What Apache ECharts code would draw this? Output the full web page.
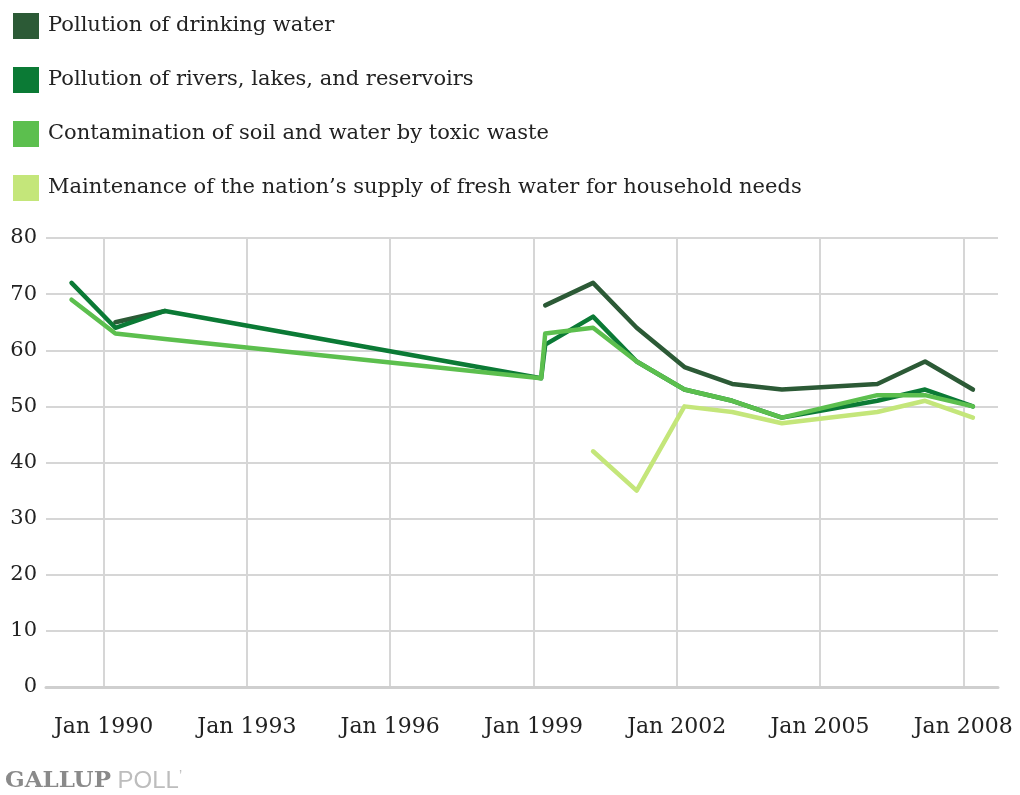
<!DOCTYPE html>
<html>
<head>
<meta charset="utf-8">
<script src="https://cdn.jsdelivr.net/npm/echarts@6/dist/echarts.min.js"></script>
<style>
html,body{margin:0;padding:0;background:#fff;}
#chart{width:1020px;height:795px;}
</style>
</head>
<body>
<div id="chart"></div>
<script>
// Survey dates (YYYY-MM-DD)
var surveyDates = ['1989-05-01','1990-04-01','1991-04-15','1999-03-01','1999-04-01','2000-04-01','2001-03-01','2002-03-01','2003-03-01','2004-03-15','2006-03-15','2007-03-15','2008-03-15'];
// Percent worrying "a great deal"
var drinkingWater   = [null, 65, 67, null, 68, 72, 64, 57, 54, 53, 54, 58, 53];
var riversLakes     = [72, 64, 67, 55, 61, 66, 58, 53, 51, 48, 51, 53, 50];
var toxicWaste      = [69, 63, 62, 55, 63, 64, 58, 53, 51, 48, 52, 52, 50];
var freshWaterSupply= [null, null, null, null, null, 42, 35, 50, 49, 47, 49, 51, 48];
var seriesNames = [
  'Pollution of drinking water',
  'Pollution of rivers, lakes, and reservoirs',
  'Contamination of soil and water by toxic waste',
  'Maintenance of the nation\u2019s supply of fresh water for household needs'
];
var xTickYears = [1990, 1993, 1996, 1999, 2002, 2005, 2008];

var colors = ['#2c5a36', '#0b7a35', '#5cbf4e', '#c4e67a'];

function toYear(s){
  var p = s.split('-');
  var y = +p[0], m = +p[1], d = +p[2];
  var start = Date.UTC(y,0,1), end = Date.UTC(y+1,0,1);
  return y + (Date.UTC(y,m-1,d) - start) / (end - start);
}
var xs = surveyDates.map(toYear);
function pairs(vals){ return vals.map(function(v,i){ return [xs[i], v]; }); }

var allSeries = [drinkingWater, riversLakes, toxicWaste, freshWaterSupply];
var FONT = 'DejaVu Serif';

var chart = echarts.init(document.getElementById('chart'), null, {renderer:'canvas'});
chart.setOption({
  animation: false,
  backgroundColor: '#fff',
  color: colors,
  legend: {
    orient: 'vertical',
    left: 8, top: 8,
    itemWidth: 26, itemHeight: 26,
    itemGap: 28,
    icon: 'rect',
    textStyle: {fontFamily: FONT, fontSize: 21, color: '#222', padding: [0,0,0,4]},
    data: seriesNames
  },
  grid: {left: 46, right: 22, top: 238, bottom: 108, containLabel: false},
  xAxis: {
    type: 'value',
    min: 1988.794, max: 2008.727,
    axisLine: {show: true, lineStyle: {color: '#cfcfcf', width: 3}},
    axisTick: {show: false, customValues: xTickYears},
    splitLine: {show: true, lineStyle: {color: '#d6d6d6', width: 2}},
    axisLabel: {
      customValues: xTickYears,
      margin: 29,
      fontFamily: FONT, fontSize: 22, color: '#222',
      formatter: function(v){ return 'Jan ' + v; }
    }
  },
  yAxis: {
    type: 'value',
    min: 0, max: 80, interval: 10,
    axisLine: {show: false},
    axisTick: {show: false},
    splitLine: {show: true, lineStyle: {color: '#d6d6d6', width: 2}},
    axisLabel: {margin: 9, fontFamily: FONT, fontSize: 21, color: '#222'}
  },
  graphic: [{
    type: 'text', left: 5, top: 769,
    style: {
      text: '{a|GALLUP}{b| POLL}{c|\u2019}',
      rich: {
        a: {fontFamily: FONT, fontSize: 23, fontWeight: 'bold', fill: '#8a8a8a'},
        b: {fontFamily: 'Liberation Sans', fontSize: 24, fill: '#bdbdbd'},
        c: {fontFamily: 'Liberation Sans', fontSize: 14, fill: '#bdbdbd', verticalAlign: 'top'}
      }
    }
  }],
  series: allSeries.map(function(vals, i){
    return {
      name: seriesNames[i],
      type: 'line',
      data: pairs(vals),
      symbol: 'none',
      connectNulls: false,
      lineStyle: {width: 4.5, color: colors[i], cap: 'round', join: 'round'},
      itemStyle: {color: colors[i]},
      z: 2 + i
    };
  })
});
</script>
</body>
</html>
